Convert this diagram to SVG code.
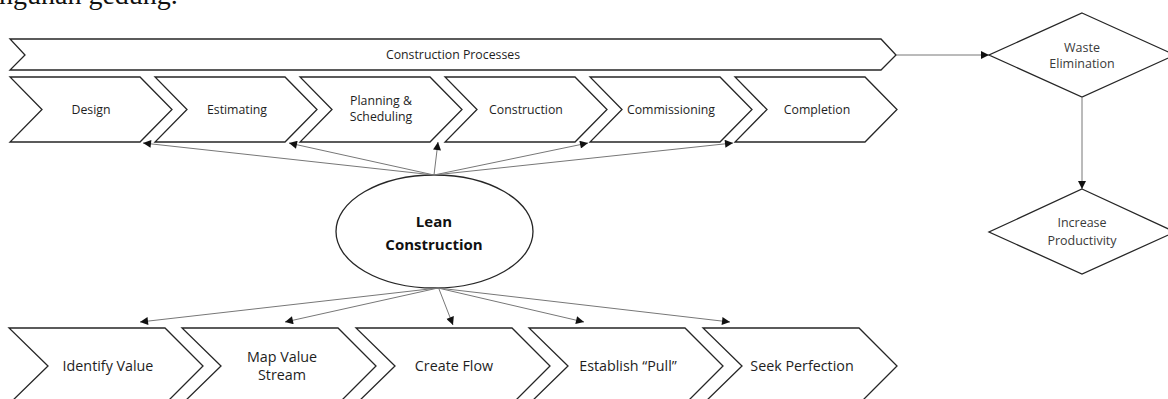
<svg xmlns="http://www.w3.org/2000/svg" width="1168" height="399" viewBox="0 0 1168 399">
  <style>
    .shape { fill: #ffffff; stroke: #262626; stroke-width: 1.3; stroke-linejoin: miter; }
    .lbl { font-family: "Open Sans", "Noto Sans", "Liberation Sans", sans-serif; fill: #1e1e1e; text-anchor: middle; }
    .s12 { font-size: 12.3px; }
    .s14 { font-size: 14.3px; }
    .dia { font-size: 12.5px; fill: #3a3a3a; }
    .bold { font-size: 15px; font-weight: bold; fill: #111111; }
    .conn { stroke: #777777; stroke-width: 1; fill: none; marker-end: url(#arrow); }
    .body { font-family: "Liberation Serif", serif; font-size: 28px; fill: #111111; }
  </style>
  <defs>
    <marker id="arrow" viewBox="0 0 10 10" refX="10" refY="5" markerWidth="10" markerHeight="8" markerUnits="userSpaceOnUse" orient="auto">
      <path d="M0,0 L10,5 L0,10 Z" fill="#111111"/>
    </marker>
  </defs>
  <rect width="1168" height="399" fill="#ffffff"/>

  <!-- tail of the preceding paragraph -->
  <text class="body" x="-1" y="4">ngunan gedung.</text>

  <!-- process banner -->
  <g id="construction-processes">
    <path class="shape" d="M10,39 H881 L896,55 L881,70 H10 L25,55 Z"/>
    <text class="lbl s12" x="453" y="59">Construction Processes</text>
  </g>

  <!-- construction stages -->
  <g id="design">
    <path class="shape" d="M10,77 H140 L172,109.5 L140,142 H10 L42,109.5 Z"/>
    <text class="lbl s12" x="91" y="114">Design</text>
  </g>
  <g id="estimating">
    <path class="shape" d="M155,77 H285 L317,109.5 L285,142 H155 L187,109.5 Z"/>
    <text class="lbl s12" x="237" y="114">Estimating</text>
  </g>
  <g id="planning-scheduling">
    <path class="shape" d="M300,77 H430 L462,109.5 L430,142 H300 L332,109.5 Z"/>
    <text class="lbl s12" x="381" y="105">Planning &amp;</text>
    <text class="lbl s12" x="381" y="121">Scheduling</text>
  </g>
  <g id="construction">
    <path class="shape" d="M445,77 H575 L607,109.5 L575,142 H445 L477,109.5 Z"/>
    <text class="lbl s12" x="526" y="114">Construction</text>
  </g>
  <g id="commissioning">
    <path class="shape" d="M590,77 H720 L752,109.5 L720,142 H590 L622,109.5 Z"/>
    <text class="lbl s12" x="671" y="114">Commissioning</text>
  </g>
  <g id="completion">
    <path class="shape" d="M735,77 H865 L897,109.5 L865,142 H735 L767,109.5 Z"/>
    <text class="lbl s12" x="817" y="114">Completion</text>
  </g>

  <!-- outcomes -->
  <g id="waste-elimination">
    <path class="shape" d="M1082,13 L1175,55 L1082,97 L989,55 Z"/>
    <text class="lbl dia" x="1082" y="52">Waste</text>
    <text class="lbl dia" x="1082" y="68">Elimination</text>
  </g>
  <g id="increase-productivity">
    <path class="shape" d="M1082,189 L1175,232 L1082,274 L989,232 Z"/>
    <text class="lbl dia" x="1082" y="227">Increase</text>
    <text class="lbl dia" x="1082" y="245">Productivity</text>
  </g>

  <!-- central concept -->
  <g id="lean-construction">
    <ellipse class="shape" cx="434.5" cy="231.5" rx="98.5" ry="56.5"/>
    <text class="lbl bold" x="434" y="227">Lean</text>
    <text class="lbl bold" x="434" y="250">Construction</text>
  </g>

  <!-- lean principles -->
  <g id="identify-value">
    <path class="shape" d="M9,328 H165 L203,366 L165,404 H9 L48,366 Z"/>
    <text class="lbl s14" x="108" y="371">Identify Value</text>
  </g>
  <g id="map-value-stream">
    <path class="shape" d="M182,328 H338 L376,366 L338,404 H182 L221,366 Z"/>
    <text class="lbl s14" x="282" y="362">Map Value</text>
    <text class="lbl s14" x="282" y="380">Stream</text>
  </g>
  <g id="create-flow">
    <path class="shape" d="M356,328 H512 L550,366 L512,404 H356 L395,366 Z"/>
    <text class="lbl s14" x="454" y="371">Create Flow</text>
  </g>
  <g id="establish-pull">
    <path class="shape" d="M529,328 H685 L723,366 L685,404 H529 L568,366 Z"/>
    <text class="lbl s14" x="628" y="371">Establish “Pull”</text>
  </g>
  <g id="seek-perfection">
    <path class="shape" d="M703,328 H859 L897,366 L859,404 H703 L742,366 Z"/>
    <text class="lbl s14" x="802" y="371">Seek Perfection</text>
  </g>

  <!-- connectors -->
  <g id="connectors">
    <line class="conn" x1="896" y1="55" x2="989" y2="55"/>
    <line class="conn" x1="1082" y1="97" x2="1082" y2="189"/>
    <line class="conn" x1="434" y1="175" x2="143" y2="143"/>
    <line class="conn" x1="434" y1="175" x2="289" y2="143"/>
    <line class="conn" x1="434" y1="175" x2="438" y2="142"/>
    <line class="conn" x1="434" y1="175" x2="588" y2="143"/>
    <line class="conn" x1="434" y1="175" x2="733" y2="143"/>
    <line class="conn" x1="438" y1="288" x2="140" y2="322"/>
    <line class="conn" x1="438" y1="288" x2="285" y2="322"/>
    <line class="conn" x1="439" y1="289" x2="453" y2="325"/>
    <line class="conn" x1="438" y1="288" x2="584" y2="322"/>
    <line class="conn" x1="438" y1="288" x2="730" y2="322"/>
  </g>
</svg>
